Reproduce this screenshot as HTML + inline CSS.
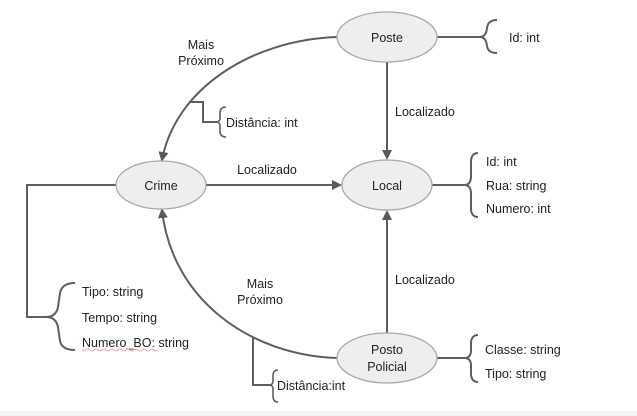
<!DOCTYPE html>
<html><head><meta charset="utf-8"><style>
html,body{margin:0;padding:0;background:#fff;}
svg{display:block;}
text{font-family:"Liberation Sans",Arial,sans-serif;font-size:12.5px;fill:#222;}
</style></head><body>
<svg width="637" height="416" viewBox="0 0 637 416">
<defs>
<marker id="a" markerWidth="10" markerHeight="10" refX="8" refY="5" orient="auto" markerUnits="userSpaceOnUse">
<path d="M0,0 L10,5 L0,10 Z" fill="#5a5a5a"/>
</marker>
</defs>
<rect x="0" y="411" width="637" height="5" fill="#f4f4f4"/>
<g fill="none" stroke="#5f5f5f" stroke-width="2">
<line x1="387" y1="62" x2="387" y2="158" marker-end="url(#a)"/>
<line x1="206" y1="185" x2="340" y2="185" marker-end="url(#a)"/>
<line x1="387" y1="333" x2="387" y2="212" marker-end="url(#a)"/>
<path d="M337,37 C250,40 175,90 162,160" marker-end="url(#a)"/>
<path d="M337,358 C250,355 172,300 162,210" marker-end="url(#a)"/>
<polyline points="189,102 203,102 203,122 218,122"/>
<path d="M226,107 Q220,107 220,113 L220,118 Q220,122 216,122 Q220,122 220,126 L220,131 Q220,137 226,137" stroke-width="1.6"/>
<polyline points="253,338 253,385 270,385"/>
<path d="M278,370 Q273,370 273,376 L273,381 Q273,385 269,385 Q273,385 273,389 L273,396 Q273,402 278,402" stroke-width="1.6"/>
<polyline points="116,185 27,185 27,317 50,317"/>
<path d="M75,283 Q62,283 60,293 L58,307 Q56,317 46,317 Q56,317 58,327 L60,341 Q62,350 75,350"/>
<line x1="437" y1="37" x2="482" y2="37"/>
<path d="M497,20 Q488,20 487,28 Q486,37 480,37 Q486,37 487,46 Q488,53 497,53"/>
<line x1="431" y1="185" x2="468" y2="185"/>
<path d="M478,153 Q472,153 471,160 L471,178 Q470,185 465,185 Q470,185 471,192 L471,210 Q472,217 478,217"/>
<line x1="437" y1="358" x2="468" y2="358"/>
<path d="M478,335 Q472,335 471,342 L471,352 Q470,358 465,358 Q470,358 471,364 L471,375 Q472,382 478,382"/>
</g>
<g fill="#eeeeee" stroke="#a8a8a8" stroke-width="1.3">
<ellipse cx="387" cy="37" rx="50" ry="25"/>
<ellipse cx="387" cy="185" rx="45" ry="25"/>
<ellipse cx="161" cy="185" rx="45" ry="24"/>
<ellipse cx="387" cy="358" rx="50" ry="25"/>
</g>
<g text-anchor="middle">
<text x="387" y="42">Poste</text>
<text x="387" y="190">Local</text>
<text x="161" y="190">Crime</text>
<text x="387" y="354">Posto</text>
<text x="387" y="371">Policial</text>
<text x="201" y="49">Mais</text>
<text x="201" y="65">Próximo</text>
<text x="260" y="288">Mais</text>
<text x="260" y="304">Próximo</text>
<text x="267" y="174">Localizado</text>
</g>
<text x="395" y="116">Localizado</text>
<text x="395" y="284">Localizado</text>
<text x="226" y="127">Distância: int</text>
<text x="277" y="390">Distância:int</text>
<text x="82" y="296">Tipo: string</text>
<text x="82" y="322">Tempo: string</text>
<text x="82" y="347">Numero_BO: string</text>
<path d="M82,350 q2,2 4,0 t4,0 t4,0 t4,0 t4,0 t4,0 t4,0 t4,0 t4,0 t4,0 t4,0 t4,0 t4,0 t4,0 t4,0 t4,0 t4,0 t4,0 t4,0" fill="none" stroke="#e88" stroke-width="0.8"/>
<text x="509" y="42">Id: int</text>
<text x="486" y="166">Id: int</text>
<text x="486" y="190">Rua: string</text>
<text x="486" y="213">Numero: int</text>
<text x="485" y="354">Classe: string</text>
<text x="485" y="378">Tipo: string</text>
</svg>
</body></html>
